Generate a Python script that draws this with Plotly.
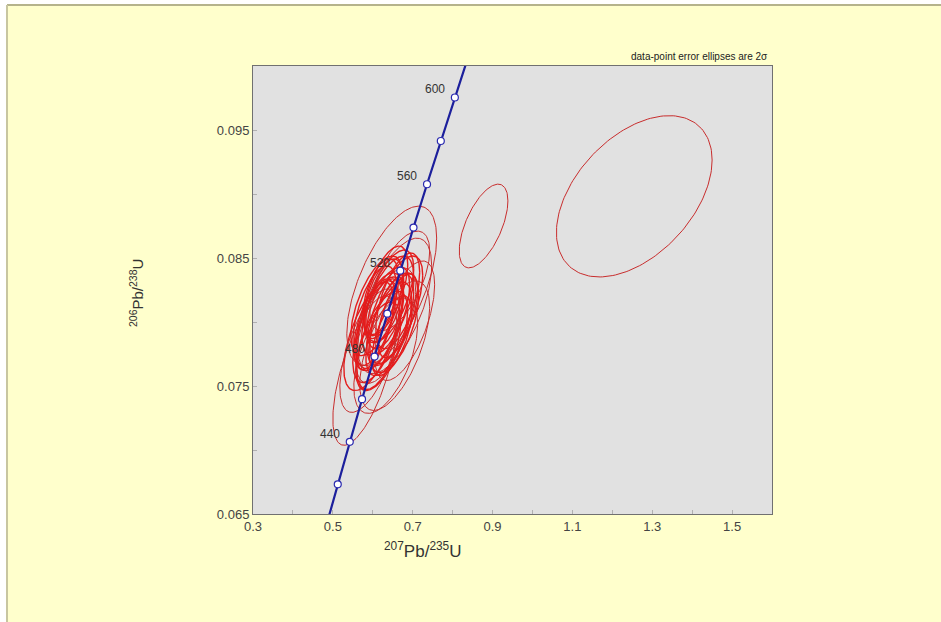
import numpy as np
import plotly.graph_objects as go

# Concordia age markers (Ma) and their ratios
ages = [420, 440, 460, 480, 500, 520, 540, 560, 580, 600]
conc_x = [0.5123, 0.5424, 0.5731, 0.6044, 0.6363, 0.6688, 0.7020, 0.7359, 0.7704, 0.8056]
conc_y = [0.06732, 0.07064, 0.07397, 0.07730, 0.08065, 0.08401, 0.08738, 0.09076, 0.09414, 0.09754]
labeled_ages = [440, 480, 520, 560, 600]
# concordia end points beyond the frame
curve_x = [0.4828] + conc_x + [0.8416]
curve_y = [0.06402] + conc_y + [0.10096]

# error ellipses (2 sigma): centre x, centre y, half-width x, half-height y, rho
ell_cx = [0.6375, 0.6175, 0.6475, 0.6275, 0.6125, 0.655, 0.6325, 0.605, 0.6425, 0.6225,
          0.6625, 0.5975, 0.63, 0.6175, 0.6475, 0.655, 0.58, 0.655, 0.6325, 0.6675,
          0.5925, 0.68, 0.625, 0.64, 0.61, 0.6525, 0.6325, 0.615, 0.6475, 0.62,
          0.6625, 0.6025, 0.8775, 1.255]
ell_cy = [0.08126, 0.08010, 0.08025, 0.08165, 0.07932, 0.08088, 0.07971, 0.08049, 0.08204, 0.07854,
          0.08165, 0.07893, 0.08072, 0.08103, 0.08282, 0.08126, 0.07621, 0.07815, 0.07737, 0.08321,
          0.07776, 0.08010, 0.08025, 0.07947, 0.08126, 0.07994, 0.08243, 0.07815, 0.07893, 0.08197,
          0.08049, 0.07971, 0.08750, 0.08982]
ell_sx = [0.065, 0.06, 0.055, 0.05, 0.0625, 0.07, 0.075, 0.055, 0.06, 0.065,
          0.055, 0.07, 0.045, 0.0375, 0.1125, 0.0925, 0.08, 0.0875, 0.08, 0.075,
          0.075, 0.075, 0.0675, 0.0575, 0.065, 0.0625, 0.055, 0.055, 0.05, 0.045,
          0.05, 0.05, 0.061, 0.195]
ell_sy = [0.00389, 0.00374, 0.00350, 0.00327, 0.00405, 0.00428, 0.00451, 0.00389, 0.00358, 0.00389,
          0.00374, 0.00428, 0.00280, 0.00233, 0.00623, 0.00529, 0.00584, 0.00506, 0.00451, 0.00389,
          0.00482, 0.00467, 0.00405, 0.00366, 0.00389, 0.00389, 0.00350, 0.00342, 0.00311, 0.00296,
          0.00327, 0.00342, 0.00327, 0.00630]
ell_rho = [0.6, 0.55, 0.6, 0.5, 0.6, 0.65, 0.6, 0.55, 0.6, 0.6,
           0.6, 0.6, 0.5, 0.5, 0.6, 0.6, 0.65, 0.6, 0.55, 0.6,
           0.6, 0.6, 0.65, 0.6, 0.6, 0.55, 0.6, 0.55, 0.6, 0.5,
           0.6, 0.55, 0.6, 0.45]

x_tick_vals = [0.3, 0.5, 0.7, 0.9, 1.1, 1.3, 1.5]
y_tick_vals = [0.065, 0.075, 0.085, 0.095]

fig = go.Figure()

theta = np.linspace(0, 2 * np.pi, 181)
n_ell = len(ell_cx)
for i, (cx, cy, sx, sy, r) in enumerate(zip(ell_cx, ell_cy, ell_sx, ell_sy, ell_rho)):
    ex = cx + sx * np.cos(theta)
    ey = cy + sy * (r * np.cos(theta) + np.sqrt(1 - r * r) * np.sin(theta))
    big = sx > 0.07 or i >= n_ell - 2
    col = "rgb(200,45,45)" if big else "rgb(228,28,28)"
    fig.add_trace(go.Scatter(x=ex, y=ey, mode="lines",
                             line=dict(color=col, width=1 if big else 1.4),
                             hoverinfo="skip", showlegend=False))

fig.add_trace(go.Scatter(x=curve_x, y=curve_y, mode="lines",
                         line=dict(color="#1c1f9c", width=2.2),
                         hoverinfo="skip", showlegend=False))
fig.add_trace(go.Scatter(x=conc_x, y=conc_y, mode="markers",
                         marker=dict(size=7, color="white",
                                     line=dict(color="#2a2ab0", width=1.2)),
                         hoverinfo="skip", showlegend=False))

annotations = []
for a in labeled_ages:
    k = ages.index(a)
    annotations.append(dict(text=str(a), x=conc_x[k], y=conc_y[k], xref="x", yref="y",
                            xanchor="right", yanchor="middle", xshift=-8, yshift=8,
                            showarrow=False,
                            font=dict(family="Liberation Sans", size=12, color="#333333")))

axis_common = dict(showgrid=False, zeroline=False, showline=True, mirror=True,
                   linecolor="#707070", linewidth=1,
                   ticks="inside", ticklen=4, tickcolor="#b0b0b0",
                   tickfont=dict(family="Liberation Sans", size=13, color="#444444"))
fig.update_xaxes(range=[0.3, 1.6], tickvals=x_tick_vals,
                 ticktext=[f"{v:.1f}" for v in x_tick_vals],
                 minor=dict(tickvals=[0.4, 0.6, 0.8, 1.0, 1.2, 1.4], ticks="inside",
                            ticklen=4, tickcolor="#b0b0b0"),
                 **axis_common)
fig.update_yaxes(range=[0.065, 0.100], tickvals=y_tick_vals,
                 ticktext=[f"{v:.3f}" for v in y_tick_vals],
                 minor=dict(tickvals=[0.07, 0.08, 0.09], ticks="inside",
                            ticklen=4, tickcolor="#b0b0b0"),
                 **axis_common)

annotations += [
    dict(text="<sup>207</sup>Pb/<sup>235</sup>U", xref="paper", yref="paper",
         x=0.3276, y=-0.0804, xanchor="center", yanchor="middle", showarrow=False,
         font=dict(family="Liberation Sans", size=17, color="#333333")),
    dict(text="<sup>206</sup>Pb/<sup>238</sup>U", xref="paper", yref="paper",
         x=-0.2254, y=0.4933, xanchor="center", yanchor="middle", showarrow=False,
         textangle=-90,
         font=dict(family="Liberation Sans", size=15, color="#333333")),
    dict(text="data-point error ellipses are 2σ", xref="paper", yref="paper",
         x=0.9961, y=1.0223, xanchor="right", yanchor="middle", showarrow=False,
         font=dict(family="Liberation Sans", size=10, color="#222222")),
]

fig.update_layout(
    width=941, height=622,
    margin=dict(l=253, r=169, t=66, b=108),
    paper_bgcolor="#FFFFCC", plot_bgcolor="#E1E1E1",
    font=dict(family="Liberation Sans"),
    shapes=[
        dict(type="rect", xref="paper", yref="paper", x0=-0.5, x1=-0.474, y0=-0.3, y1=1.2,
             fillcolor="white", line=dict(width=0), layer="above"),
        dict(type="rect", xref="paper", yref="paper", x0=-0.5, x1=1.4, y0=1.1362, y1=1.2,
             fillcolor="white", line=dict(width=0), layer="above"),
        dict(type="line", xref="paper", yref="paper", x0=-0.474, x1=1.4, y0=1.1362, y1=1.1362,
             line=dict(color="#b5b38c", width=2), layer="above"),
        dict(type="line", xref="paper", yref="paper", x0=-0.474, x1=-0.474, y0=-0.3, y1=1.1362,
             line=dict(color="#c8c6a0", width=2), layer="above"),
    ],
    annotations=annotations,
)

fig.write_html("out.html",
               config={"displayModeBar": False},
               post_script="document.body.style.margin='0';"
                           "document.documentElement.style.overflow='hidden';")
